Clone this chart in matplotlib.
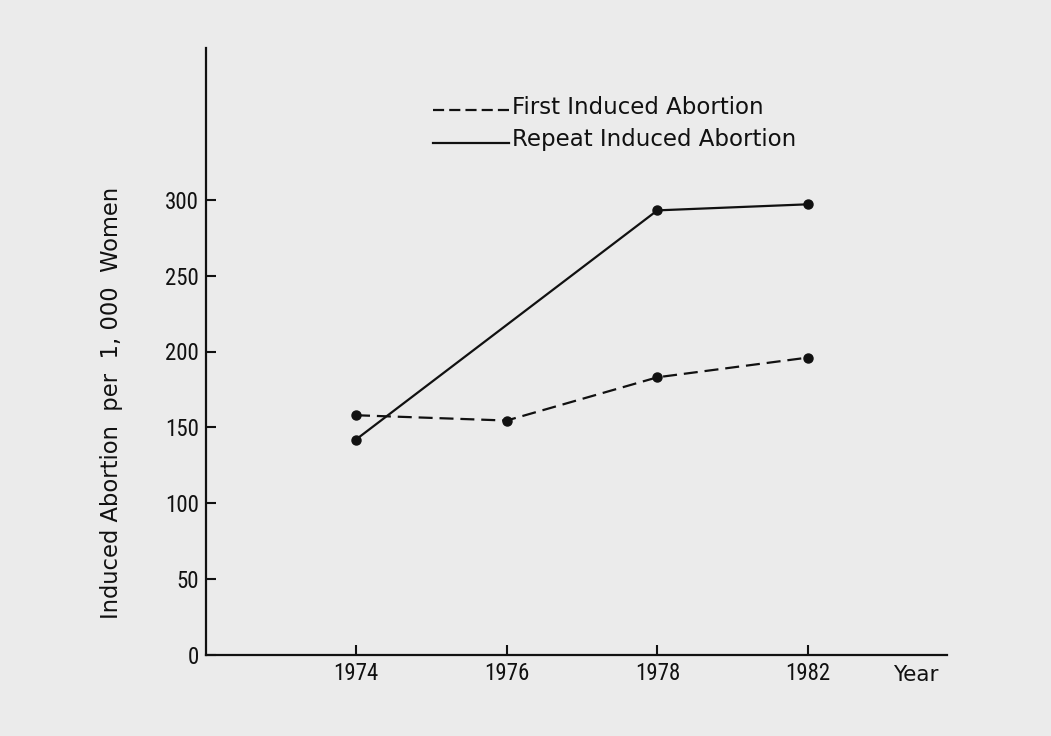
import numpy as np
import matplotlib
matplotlib.use("Agg")
import matplotlib.pyplot as plt
from matplotlib.lines import Line2D

years = ["1974", "1976", "1978", "1982"]
first_induced = [158, 154.5, 183, 196]
repeat_induced = [142, np.nan, 293, 297]
y_ticks = [0, 50, 100, 150, 200, 250, 300]
series_labels = ["First Induced Abortion", "Repeat Induced Abortion"]

BG = "#ebebeb"
INK = "#111111"
NARROW = ["Roboto Condensed", "PT Sans Narrow", "DejaVu Sans"]
WIDE = ["DejaVu Sans"]
W, H = 1051, 736

fig = plt.figure(figsize=(W / 100, H / 100), dpi=100, facecolor=BG)
ax = fig.add_axes([206 / W, 1 - 655 / H, (947 - 206) / W, (655 - 48) / H])
ax.set_facecolor(BG)

x = np.arange(len(years))
fi = np.array(first_induced, dtype=float)
ri = np.array(repeat_induced, dtype=float)
m = ~np.isnan(ri)

ax.plot(x, fi, color=INK, lw=1.6, ls=(0, (6.3, 3.1)), marker="o", ms=6.5,
        markerfacecolor=INK, markeredgecolor=INK)
ax.plot(x[m], ri[m], color=INK, lw=1.6, ls="-", marker="o", ms=6.5,
        markerfacecolor=INK, markeredgecolor=INK)

ax.set_xlim((206 - 356) / 150.67, (947 - 356) / 150.67)
ax.set_ylim(0, 400)
ax.set_xticks(x)
ax.set_xticklabels(years, fontfamily=NARROW, fontsize=16.5)
ax.set_yticks(y_ticks)
ax.set_yticklabels([str(v) for v in y_ticks], fontfamily=NARROW, fontsize=16.5)
ax.tick_params(axis="both", direction="in", length=7, width=1.5, colors=INK)
ax.tick_params(axis="x", pad=5)
ax.tick_params(axis="y", pad=5)

for s in ["top", "right"]:
    ax.spines[s].set_visible(False)
for s in ["left", "bottom"]:
    ax.spines[s].set_linewidth(1.6)
    ax.spines[s].set_color(INK)

fig.text(916 / W, 1 - 675 / H, "Year", fontfamily=WIDE, fontsize=15.5,
         ha="center", va="center", color=INK)
fig.text(112 / W, 1 - 403 / H, "Induced Abortion  per  1, 000  Women",
         fontfamily=WIDE, fontsize=16.3, rotation=90, ha="center", va="center", color=INK)

# legend drawn as figure artists
leg_styles = [(0, (5, 2.3)), "-"]
leg_line_y = [110, 143]
leg_text_base = [114, 146]
for lab, st, ly, ty in zip(series_labels, leg_styles, leg_line_y, leg_text_base):
    fig.add_artist(Line2D([433 / W, 509 / W], [1 - ly / H, 1 - ly / H],
                          transform=fig.transFigure, color=INK, lw=1.6, ls=st))
    fig.text(512 / W, 1 - ty / H, lab, fontfamily=WIDE, fontsize=16.5,
             ha="left", va="baseline", color=INK)

fig.savefig("out.png", dpi=100, facecolor=BG)
